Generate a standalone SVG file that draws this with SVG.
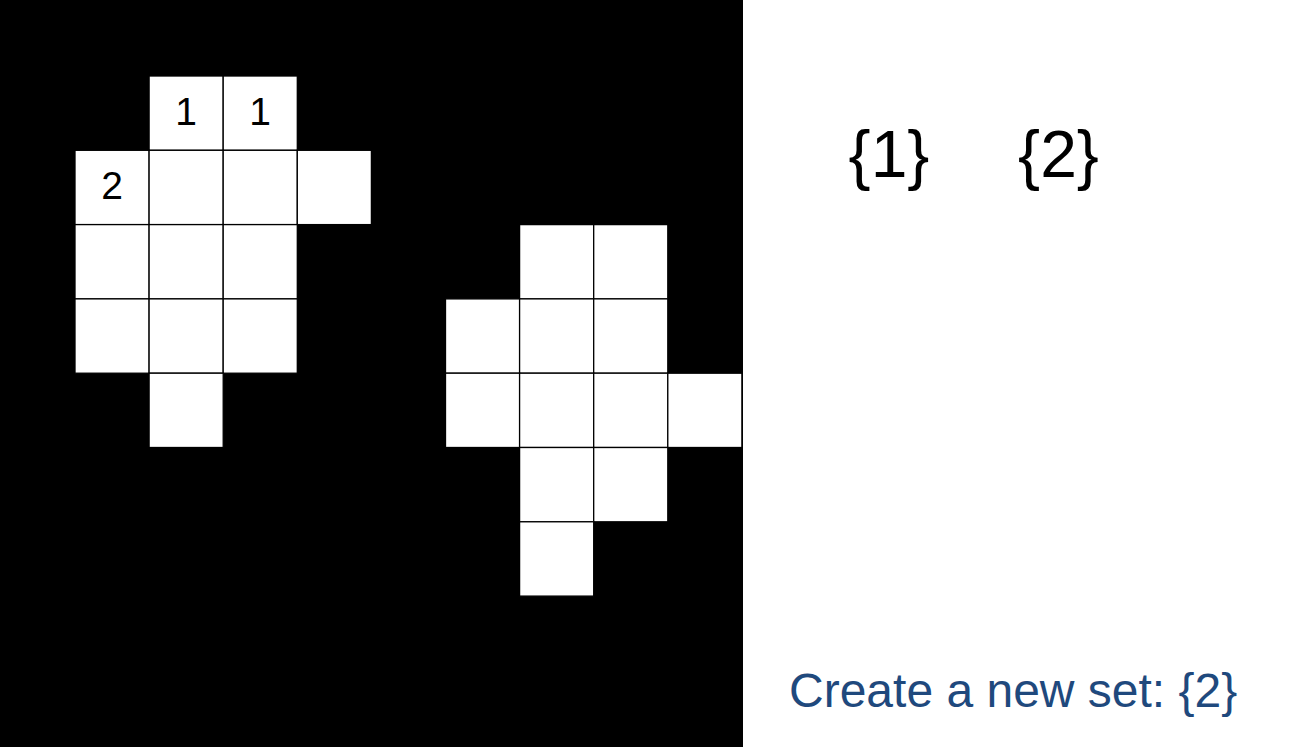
<svg xmlns="http://www.w3.org/2000/svg" width="1302" height="750" viewBox="0 0 1302 750">
<style>
.cell{fill:#ffffff;stroke:#000000;stroke-width:1.3}
.num{font-family:"Liberation Sans",Arial,sans-serif;font-size:39px;fill:#000000;text-anchor:middle}
.set{font-family:"Liberation Sans",Arial,sans-serif;font-size:66px;fill:#000000;text-anchor:middle}
.cap{font-family:"Liberation Sans",Arial,sans-serif;font-size:48px;fill:#1F497D}
</style>
<rect width="1302" height="750" fill="#ffffff"/>
<rect id="board" x="0" y="0" width="743" height="747" fill="#000000"/>
<g id="blob-left">
<rect class="cell" x="149.1" y="76" width="74.1" height="74.3"/>
<rect class="cell" x="223.2" y="76" width="74.1" height="74.3"/>
<rect class="cell" x="75" y="150.3" width="74.1" height="74.3"/>
<rect class="cell" x="149.1" y="150.3" width="74.1" height="74.3"/>
<rect class="cell" x="223.2" y="150.3" width="74.1" height="74.3"/>
<rect class="cell" x="297.3" y="150.3" width="74.1" height="74.3"/>
<rect class="cell" x="75" y="224.6" width="74.1" height="74.3"/>
<rect class="cell" x="149.1" y="224.6" width="74.1" height="74.3"/>
<rect class="cell" x="223.2" y="224.6" width="74.1" height="74.3"/>
<rect class="cell" x="75" y="298.9" width="74.1" height="74.3"/>
<rect class="cell" x="149.1" y="298.9" width="74.1" height="74.3"/>
<rect class="cell" x="223.2" y="298.9" width="74.1" height="74.3"/>
<rect class="cell" x="149.1" y="373.2" width="74.1" height="74.3"/>
<text class="num" x="186" y="125">1</text>
<text class="num" x="260" y="125">1</text>
<text class="num" x="112" y="199">2</text>
</g>
<g id="blob-right">
<rect class="cell" x="519.6" y="224.6" width="74.1" height="74.3"/>
<rect class="cell" x="593.7" y="224.6" width="74.1" height="74.3"/>
<rect class="cell" x="445.5" y="298.9" width="74.1" height="74.3"/>
<rect class="cell" x="519.6" y="298.9" width="74.1" height="74.3"/>
<rect class="cell" x="593.7" y="298.9" width="74.1" height="74.3"/>
<rect class="cell" x="445.5" y="373.2" width="74.1" height="74.3"/>
<rect class="cell" x="519.6" y="373.2" width="74.1" height="74.3"/>
<rect class="cell" x="593.7" y="373.2" width="74.1" height="74.3"/>
<rect class="cell" x="667.8" y="373.2" width="74.1" height="74.3"/>
<rect class="cell" x="519.6" y="447.5" width="74.1" height="74.3"/>
<rect class="cell" x="593.7" y="447.5" width="74.1" height="74.3"/>
<rect class="cell" x="519.6" y="521.8" width="74.1" height="74.3"/>
</g>
<g id="sets">
<text class="set" x="889" y="177">{1}</text>
<text class="set" x="1058.5" y="177">{2}</text>
</g>
<g id="caption">
<text class="cap" x="789" y="707">Create a new set: {2}</text>
</g>
<g id="connectors"/>
</svg>
